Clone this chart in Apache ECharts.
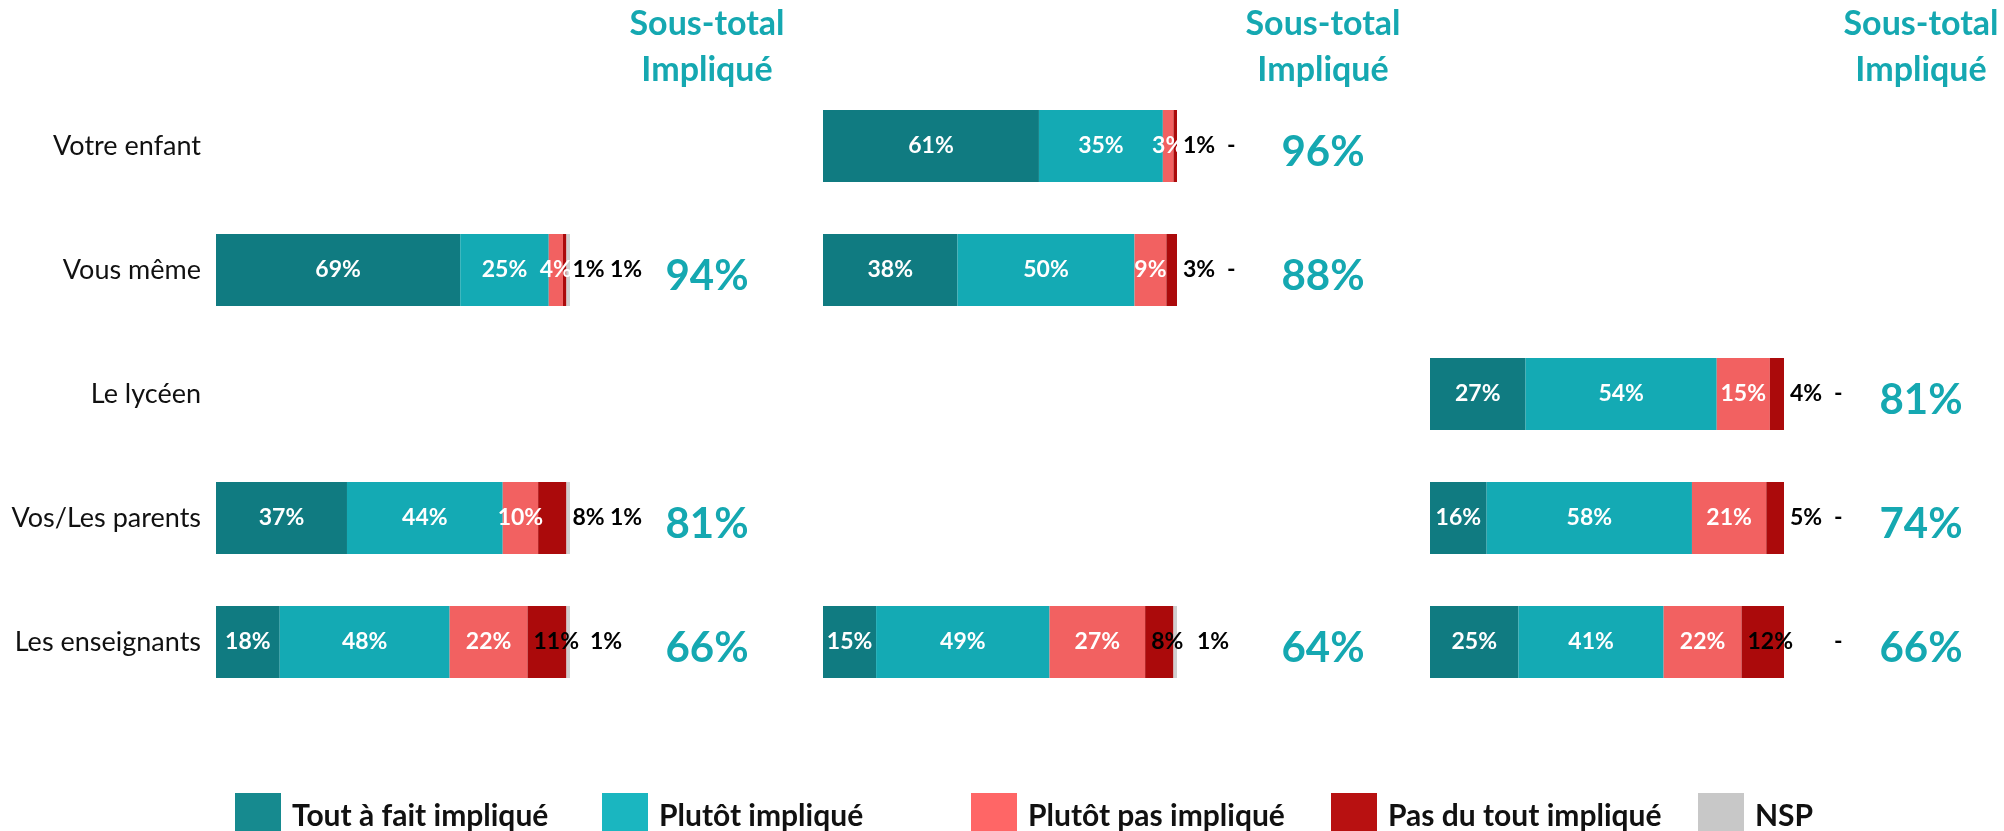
<!DOCTYPE html>
<html>
<head>
<meta charset="utf-8">
<script src="https://cdn.jsdelivr.net/npm/echarts@6/dist/echarts.min.js"></script>
<style>
  body { margin: 0; background: #fff; }
  #chart { width: 2004px; height: 831px; }
</style>
</head>
<body>
<div id="chart"></div>
<script>
  // rows, top to bottom
  const categories = ['Votre enfant', 'Vous même', 'Le lycéen', 'Vos/Les parents', 'Les enseignants'];
  const segments = ['Tout à fait impliqué', 'Plutôt impliqué', 'Plutôt pas impliqué', 'Pas du tout impliqué', 'NSP'];

  // one list per panel (left, middle, right), same row order as categories
  const toutAFait = [[null, 69, null, 37, 18], [61, 38, null, null, 15], [null, null, 27, 16, 25]];
  const plutot = [[null, 25, null, 44, 48], [35, 50, null, null, 49], [null, null, 54, 58, 41]];
  const plutotPas = [[null, 4, null, 10, 22], [3, 9, null, null, 27], [null, null, 15, 21, 22]];
  const pasDuTout = [[null, 1, null, 8, 11], [1, 3, null, null, 8], [null, null, 4, 5, 12]];
  const nsp = [[null, 1, null, 1, 1], [0, 0, null, null, 1], [null, null, 0, 0, 0]];
  const sousTotal = [[null, 94, null, 81, 66], [96, 88, null, null, 64], [null, null, 81, 74, 66]];

  const barColors = ['#107B81', '#14AAB4', '#F26161', '#AB0A0B', '#CFCFCF'];
  const legendColors = ['#168A8F', '#1AB6C0', '#FF6666', '#B81111', '#C8C8C8'];
  const teal = '#15A8B1';
  const font = 'Lato';

  const panelLeft = [216, 823, 1430];
  const panelWidth = 354;
  const subX = [707, 1323, 1921];
  const legendLeft = [230, 597, 966, 1326, 1693];
  const gridTop = 84, gridHeight = 620;

  const chart = echarts.init(document.getElementById('chart'));

  let grid = [], xAxis = [], yAxis = [], series = [], graphic = [];

  // pas du tout label sits inside its bar only when there is room for it
  function pdtInside(p, i) {
    return pasDuTout[p][i] >= 8 && plutotPas[p][i] >= 15;
  }

  for (let p = 0; p < 3; p++) {
    const g = p, sg = 3 + p;   // bar grid, sous-total grid
    grid[g] = { left: panelLeft[p], width: panelWidth, top: gridTop, height: gridHeight };
    xAxis[g] = { type: 'value', gridIndex: g, min: 0, max: 100, show: false };
    yAxis[g] = {
      type: 'category', gridIndex: g, data: categories, inverse: true,
      axisLine: { show: false }, axisTick: { show: false }, splitLine: { show: false },
      axisLabel: { show: p === 0, margin: 15, fontSize: 27, fontFamily: font, color: '#111' }
    };

    const segData = [toutAFait, plutot, plutotPas, pasDuTout, nsp];
    segData.forEach((arr, s) => {
      let data = arr[p].map((v, i) => {
        if (v == null) return null;
        if (s === 3) {
          return pdtInside(p, i)
            ? { value: v, label: { position: 'insideLeft', distance: 6 } }
            : { value: v, label: { position: 'right', distance: 6 } };
        }
        if (s === 4) {
          let d = v === 0 ? 50 : (pdtInside(p, i) ? 20 : 40);
          return { value: v, label: { position: 'right', distance: d } };
        }
        return v;
      });
      series.push({
        type: 'bar', name: segments[s], stack: 'p' + p,
        xAxisIndex: g, yAxisIndex: g, barWidth: 72,
        itemStyle: { color: barColors[s] },
        label: {
          show: true,
          position: 'inside',
          color: s < 3 ? '#fff' : '#000',
          fontSize: 23, fontWeight: 'bold', fontFamily: font,
          formatter: prm => (prm.value === 0 ? '-' : prm.value + '%')
        },
        data: data
      });
    });

    // sous-total column
    grid[sg] = { left: subX[p] - 60, width: 120, top: gridTop, height: gridHeight };
    xAxis[sg] = { type: 'category', gridIndex: sg, data: ['st'], show: false };
    yAxis[sg] = { type: 'category', gridIndex: sg, data: categories, inverse: true, show: false };
    let st = [];
    sousTotal[p].forEach((v, i) => { if (v != null) st.push([0, i, v]); });
    series.push({
      type: 'scatter', xAxisIndex: sg, yAxisIndex: sg, symbolSize: 0,
      itemStyle: { opacity: 1, color: teal },
      data: st,
      label: {
        show: true, position: 'inside', offset: [0, 6], opacity: 1,
        textBorderWidth: 0,
        color: teal, fontSize: 42, fontWeight: 'bold', fontFamily: font,
        formatter: prm => prm.value[2] + '%'
      }
    });

    graphic.push({
      type: 'text', x: subX[p], y: 47.5,
      style: {
        text: 'Sous-total\nImpliqué', align: 'center', verticalAlign: 'middle',
        fontSize: 34, fontWeight: 'bold', fontFamily: font, fill: teal, lineHeight: 46
      }
    });
  }

  const legend = segments.map((name, s) => ({
    left: legendLeft[s], top: 788,
    itemWidth: 46, itemHeight: 46, icon: 'rect',
    selectedMode: false,
    data: [{ name: name, itemStyle: { color: legendColors[s] } }],
    textStyle: { fontSize: 30, fontWeight: 'bold', fontFamily: font, color: '#111', padding: [0, 0, 0, 6] }
  }));

  chart.setOption({
    animation: false,
    grid: grid,
    xAxis: xAxis,
    yAxis: yAxis,
    legend: legend,
    graphic: graphic,
    series: series
  });
</script>
</body>
</html>
